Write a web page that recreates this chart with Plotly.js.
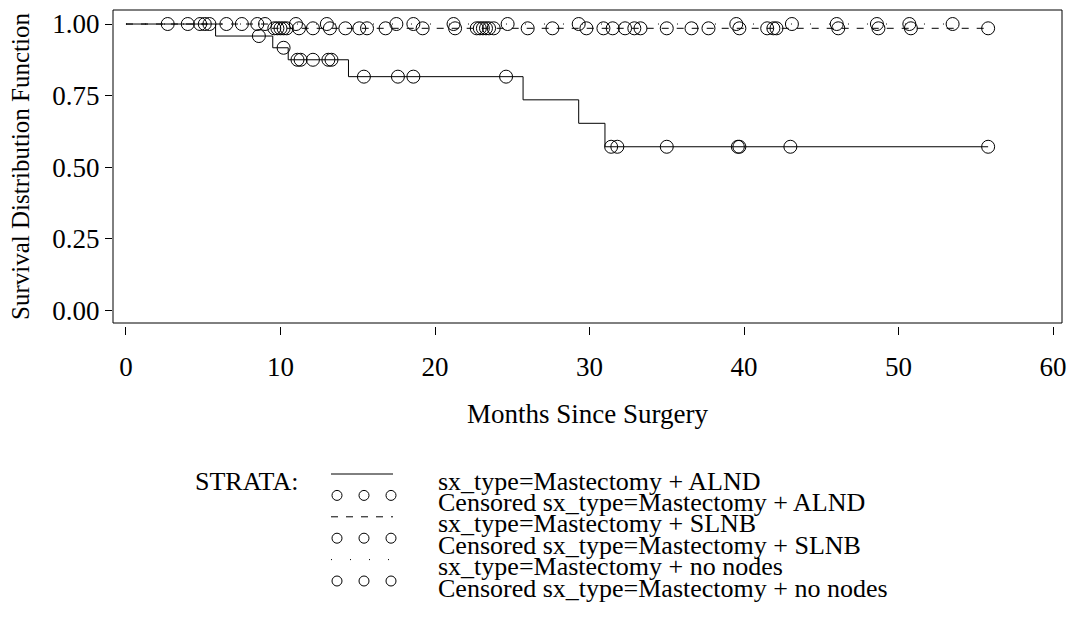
<!DOCTYPE html>
<html><head><meta charset="utf-8">
<script src="https://cdn.plot.ly/plotly-3.0.1.min.js"></script>
<style>html,body{margin:0;padding:0;background:#fff}</style>
</head><body>
<div id="chart" style="width:1068px;height:624px"></div>
<script>
// ---- data: Mastectomy + ALND (solid) ----
const alndTimes = [0, 5.8, 9.5, 10.5, 14.4, 25.7, 29.3, 31.0, 55.8];
const alndSurv  = [1.0, 0.958, 0.917, 0.875, 0.816, 0.735, 0.653, 0.571, 0.571];
const alndCensTimes = [8.6, 10.2, 11.1, 11.3, 12.1, 13.1, 13.3, 15.4, 17.6, 18.6, 24.6, 31.4, 31.8, 35.0, 39.6, 39.7, 43.0, 55.8];
const alndCensSurv  = [0.958, 0.917, 0.875, 0.875, 0.875, 0.875, 0.875, 0.816, 0.816, 0.816, 0.816, 0.571, 0.571, 0.571, 0.571, 0.571, 0.571, 0.571];

// ---- data: Mastectomy + SLNB (dashed) ----
const slnbTimes = [0, 9.3, 55.8];
const slnbSurv  = [1.0, 0.985, 0.985];
const slnbCensTimes = [4.0, 5.1, 5.4, 7.5, 8.5, 9.0, 9.6, 9.8, 10.0, 10.2, 10.4, 11.2, 12.1, 13.2, 14.2, 15.1, 15.6, 16.8, 19.2, 21.3, 22.7, 22.9, 23.1, 23.3, 23.5, 23.8, 26.0, 27.6, 29.8, 30.9, 31.5, 32.3, 32.9, 33.3, 35.0, 36.6, 37.7, 39.7, 41.5, 41.9, 42.1, 46.1, 48.7, 50.8, 55.8];
const slnbCensSurv  = [1.0, 1.0, 1.0, 1.0, 1.0, 1.0, 0.985, 0.985, 0.985, 0.985, 0.985, 0.985, 0.985, 0.985, 0.985, 0.985, 0.985, 0.985, 0.985, 0.985, 0.985, 0.985, 0.985, 0.985, 0.985, 0.985, 0.985, 0.985, 0.985, 0.985, 0.985, 0.985, 0.985, 0.985, 0.985, 0.985, 0.985, 0.985, 0.985, 0.985, 0.985, 0.985, 0.985, 0.985, 0.985];

// ---- data: Mastectomy + no nodes (dotted) ----
const noneTimes = [0, 53.5];
const noneSurv  = [1.0, 1.0];
const noneCensTimes = [2.7, 4.8, 6.5, 11.0, 13.0, 17.5, 18.6, 21.2, 24.7, 29.3, 39.5, 43.1, 46.0, 48.6, 50.7, 53.5];
const noneCensSurv  = [1.0, 1.0, 1.0, 1.0, 1.0, 1.0, 1.0, 1.0, 1.0, 1.0, 1.0, 1.0, 1.0, 1.0, 1.0, 1.0];

// ---- axis ticks and text ----
const xTickVals = [0, 10, 20, 30, 40, 50, 60];
const yTickVals = [0, 0.25, 0.5, 0.75, 1.0];
const yTickText = ["0.00", "0.25", "0.50", "0.75", "1.00"];
const legendTitle = "STRATA:";
const legendLabels = [
  "sx_type=Mastectomy + ALND",
  "Censored sx_type=Mastectomy + ALND",
  "sx_type=Mastectomy + SLNB",
  "Censored sx_type=Mastectomy + SLNB",
  "sx_type=Mastectomy + no nodes",
  "Censored sx_type=Mastectomy + no nodes"
];
const legendKinds = ["solid", "circles", "dash", "circles", "dot", "circles"];

// ---- styling ----
const FONT = "Liberation Serif, Times New Roman, serif";
const TFS = 27;   // tick labels
const XTFS = 27;  // x title
const YTFS = 25;  // y title
const LFS = 26;   // legend
const W = 1068, H = 624;
const M = {l: 113, r: 6, t: 10, b: 298};
const plotW = W - M.l - M.r, plotH = H - M.t - M.b;
const gap = 3 / plotH;
const px = p => (p - M.l) / plotW;
const py = p => (H - M.b - p) / plotH;

const lineStyle = {solid: "solid", dash: "7px,8px", dot: "1px,18px"};
const markerStyle = {symbol: "circle-open", size: 13, color: "#000", line: {width: 1, color: "#000"}};

const traces = [
  {x: alndTimes, y: alndSurv, mode: "lines", line: {shape: "hv", color: "#000", width: 1, dash: lineStyle.solid}},
  {x: alndCensTimes, y: alndCensSurv, mode: "markers", marker: markerStyle},
  {x: slnbTimes, y: slnbSurv, mode: "lines", line: {shape: "hv", color: "#000", width: 1, dash: lineStyle.dash}},
  {x: slnbCensTimes, y: slnbCensSurv, mode: "markers", marker: markerStyle},
  {x: noneTimes, y: noneSurv, mode: "lines", line: {shape: "hv", color: "#000", width: 1, dash: lineStyle.dot}},
  {x: noneCensTimes, y: noneCensSurv, mode: "markers", marker: markerStyle}
];

// legend built from shapes + annotations
const shapes = [
  {type: "rect", xref: "paper", yref: "paper", x0: 0, x1: 1, y0: gap, y1: 1, line: {color: "#000", width: 1}}
];
const annotations = [
  {xref: "paper", yref: "paper", x: px(193), y: py(481), xanchor: "left", yanchor: "middle",
   text: legendTitle, showarrow: false, font: {family: FONT, size: LFS, color: "#000"}}
];
const rowY0 = 481, rowStep = 21.4;
legendLabels.forEach((lab, i) => {
  const ty = rowY0 + i * rowStep;
  const sy = ty - 7;
  const kind = legendKinds[i];
  if (kind === "circles") {
    [337, 364, 391].forEach(cx => {
      shapes.push({type: "circle", xref: "paper", yref: "paper",
        x0: px(cx - 5), x1: px(cx + 5), y0: py(sy + 5), y1: py(sy - 5),
        line: {color: "#000", width: 1}});
    });
  } else {
    shapes.push({type: "line", xref: "paper", yref: "paper",
      x0: px(331), x1: px(393), y0: py(sy), y1: py(sy),
      line: {color: "#000", width: 1, dash: lineStyle[kind]}});
  }
  annotations.push({xref: "paper", yref: "paper", x: px(436), y: py(ty), xanchor: "left", yanchor: "middle",
    text: lab, showarrow: false, font: {family: FONT, size: LFS, color: "#000"}});
});

const layout = {
  width: W, height: H,
  margin: M,
  paper_bgcolor: "#fff", plot_bgcolor: "#fff",
  showlegend: false,
  font: {family: FONT, size: TFS, color: "#000"},
  xaxis: {
    range: [-0.84, 60.58], tickvals: xTickVals, ticks: "outside", ticklen: 8, tickcolor: "#000", tickwidth: 1,
    showline: false, showgrid: false, zeroline: false, anchor: "free", position: 0,
    ticklabelstandoff: 9,
    tickfont: {family: FONT, size: TFS, color: "#000"},
    title: {text: "Months Since Surgery", font: {family: FONT, size: XTFS, color: "#000"}, standoff: 22}
  },
  yaxis: {
    domain: [gap, 1], range: [-0.045, 1.049], tickvals: yTickVals, ticktext: yTickText,
    ticks: "outside", ticklen: 7, tickcolor: "#000", tickwidth: 1,
    showline: false, showgrid: false, zeroline: false,
    tickfont: {family: FONT, size: TFS, color: "#000"},
    title: {text: "Survival Distribution Function", font: {family: FONT, size: YTFS, color: "#000"}, standoff: 15}
  },
  shapes: shapes,
  annotations: annotations
};

Plotly.newPlot("chart", traces, layout, {staticPlot: true, displayModeBar: false});
</script>
</body></html>
